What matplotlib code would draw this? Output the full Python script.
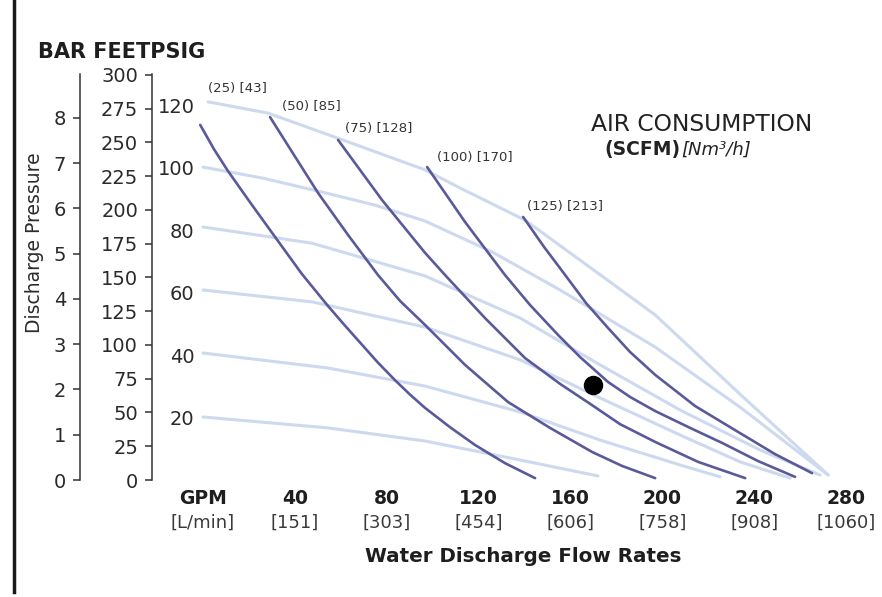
import matplotlib
matplotlib.use("Agg")
import matplotlib.pyplot as plt

plt.rcParams['font.family'] = ['DejaVu Sans']

# ---------------- data (GPM, PSIG) ----------------
gpm_ticks = [0, 40, 80, 120, 160, 200, 240, 280]
gpm_labels = ["GPM", "40", "80", "120", "160", "200", "240", "280"]
lpm_labels = ["[L/min]", "[151]", "[303]", "[454]", "[606]", "[758]", "[908]", "[1060]"]
psig_ticks = [20, 40, 60, 80, 100, 120]
feet_ticks = list(range(0, 301, 25))
bar_ticks = list(range(0, 9))

# dark curves: constant air consumption
scfm_labels = ["(25) [43]", "(50) [85]", "(75) [128]", "(100) [170]", "(125) [213]"]
c25_x = [-1.2, 4.8, 10.9, 20.5, 30.1, 36.6, 43.1, 54.4, 61.8, 69.3, 76.2, 83.6, 90.1, 96.7, 107.6, 118.5, 131.5, 144.6]
c25_y = [113.8, 106.0, 99.0, 89.0, 79.2, 72.6, 66.0, 55.8, 49.5, 43.3, 37.6, 32.0, 27.4, 23.1, 16.9, 11.2, 5.4, 0.6]
c50_x = [29.2, 39.6, 50.1, 63.2, 76.2, 85.8, 96.7, 114.1, 132.8, 151.1, 169.4, 182.5, 196.9]
c50_y = [116.3, 104.2, 92.0, 78.5, 65.7, 57.4, 49.7, 36.9, 25.0, 16.7, 9.0, 4.5, 0.6]
c75_x = [58.8, 78.0, 96.7, 105.4, 122.8, 140.2, 155.5, 169.4, 181.6, 196.9, 215.6, 236.1]
c75_y = [109.0, 89.7, 72.8, 65.7, 51.9, 39.1, 30.8, 24.0, 17.9, 12.2, 5.8, 0.6]
c100_x = [97.6, 114.1, 131.5, 142.4, 154.6, 164.2, 176.4, 186.0, 196.9, 212.1, 226.0, 241.6, 257.8]
c100_y = [100.3, 82.7, 65.7, 56.1, 46.5, 39.4, 31.4, 26.6, 22.1, 16.7, 11.9, 6.1, 1.0]
c125_x = [139.4, 148.5, 157.7, 166.8, 176.4, 186.0, 196.9, 214.3, 233.0, 249.1, 265.2]
c125_y = [84.3, 74.7, 65.7, 56.7, 48.7, 41.0, 33.7, 23.7, 15.4, 8.3, 2.2]
label_x = [2.2, 34.4, 61.8, 101.9, 141.1]
label_y = [125.6, 119.6, 112.8, 103.5, 87.5]

# light curves: constant air inlet pressure
a120_x = [2.2, 28.3, 59.7, 96.7, 111.1, 140.2, 172.0, 196.9, 234.3, 272.2]
a120_y = [121.2, 117.6, 109.3, 99.4, 93.9, 83.3, 66.3, 52.9, 27.2, 1.6]
a100_x = [0, 25.7, 51.8, 74.9, 96.7, 125.9, 155.5, 196.9, 234.3, 272.2]
a100_y = [100.3, 96.8, 92.3, 88.1, 83.0, 73.1, 60.9, 42.6, 23.1, 1.6]
a80_x = [0, 47.5, 96.7, 138.1, 172.9, 207.8, 242.6, 268.7]
a80_y = [81.1, 75.9, 65.4, 51.9, 36.9, 22.4, 9.6, 1.6]
a60_x = [0, 47.5, 96.7, 138.1, 172.9, 207.8, 233.9, 255.7]
a60_y = [60.9, 57.1, 49.0, 38.5, 26.3, 14.4, 5.8, 0.6]
a40_x = [0, 54.4, 96.7, 138.1, 172.9, 207.8, 225.2]
a40_y = [40.7, 35.9, 30.1, 21.8, 12.8, 4.8, 1.0]
a20_x = [0, 54.4, 96.7, 138.1, 172.0]
a20_y = [20.2, 16.7, 12.5, 6.4, 1.3]

point_x = [169.9]
point_y = [30.4]

# ---------------- figure ----------------
W, H = 882, 597
fig = plt.figure(figsize=(W / 100, H / 100), dpi=100)
fig.patch.set_facecolor("white")

x0, y0 = 203, 480          # pixel of (0 GPM, 0 psig)
x1, y1 = 869, 74.4         # pixel of (290 GPM, 130 psig)
ax = fig.add_axes([x0 / W, (H - y0) / H, (x1 - x0) / W, (y0 - y1) / H])
ax.set_xlim(0, 290)
ax.set_ylim(0, 130)
for s in ax.spines.values():
    s.set_visible(False)
ax.patch.set_alpha(0)

txt = "#2a2a2a"
light = "#cdd9ee"
dark = "#5a5a9a"

for xs, ys in [(a120_x, a120_y), (a100_x, a100_y), (a80_x, a80_y),
               (a60_x, a60_y), (a40_x, a40_y), (a20_x, a20_y)]:
    ax.plot(xs, ys, color=light, lw=2.2, solid_capstyle="round",
            solid_joinstyle="round", zorder=1, clip_on=False)

for xs, ys in [(c25_x, c25_y), (c50_x, c50_y), (c75_x, c75_y),
               (c100_x, c100_y), (c125_x, c125_y)]:
    ax.plot(xs, ys, color=dark, lw=1.9, solid_capstyle="round",
            solid_joinstyle="round", zorder=2, clip_on=False)

for lx, ly, lab in zip(label_x, label_y, scfm_labels):
    ax.text(lx, ly, lab, fontsize=9.5, color="#333333", ha="left", va="center")

ax.plot(point_x, point_y, "o", color="black", markersize=13, zorder=5)

# psig axis (labels only)
ax.set_yticks(psig_ticks)
ax.set_yticklabels([str(v) for v in psig_ticks])
ax.tick_params(axis="y", length=0, pad=6, labelsize=14, labelcolor=txt)

# x axis: GPM row (bold) and L/min row
ax.set_xticks(gpm_ticks)
ax.set_xticklabels(gpm_labels, fontweight="bold")
ax.tick_params(axis="x", length=0, pad=6.5, labelsize=13.5, labelcolor="#1e1e1e")
sx = ax.secondary_xaxis("bottom")
sx.set_xticks(gpm_ticks)
sx.set_xticklabels(lpm_labels)
sx.tick_params(axis="x", length=0, pad=24, labelsize=13, labelcolor="#3a3a3a")
sx.spines["bottom"].set_visible(False)

# feet axis
span = x1 - x0
feet = ax.secondary_yaxis((152 - x0) / span, functions=(lambda p: p * 2.31, lambda f: f / 2.31))
feet.set_yticks(feet_ticks)
feet.set_yticklabels([str(v) for v in feet_ticks])
feet.tick_params(axis="y", direction="out", length=5, width=1.1, pad=5, labelsize=14,
                 labelcolor=txt, color="#333333")
feet.spines["left"].set_linewidth(1.1)
feet.spines["left"].set_color("#333333")

# bar axis
bar = ax.secondary_yaxis((80 - x0) / span, functions=(lambda p: p / 14.5038, lambda b: b * 14.5038))
bar.set_yticks(bar_ticks)
bar.set_yticklabels([str(v) for v in bar_ticks])
bar.tick_params(axis="y", direction="out", length=5, width=1.1, pad=5, labelsize=14,
                labelcolor=txt, color="#333333")
bar.spines["left"].set_linewidth(1.1)
bar.spines["left"].set_color("#333333")


def fx(px):
    return px / W


def fy(py):
    return (H - py) / H


fig.text(fx(38), fy(52), "BAR FEETPSIG", fontsize=15, fontweight="bold",
         color="#1e1e1e", ha="left", va="center")
fig.text(fx(35), fy(243), "Discharge Pressure", fontsize=13.5, rotation=90,
         color=txt, ha="center", va="center")
fig.text(fx(523), fy(556), "Water Discharge Flow Rates", fontsize=14.3, fontweight="bold",
         color="#1e1e1e", ha="center", va="center")
fig.text(fx(702), fy(124), "AIR CONSUMPTION", fontsize=16.8, color="#222222",
         ha="center", va="center")
fig.text(fx(680), fy(150), "(SCFM)", fontsize=13.5, fontweight="bold", color="#222222",
         ha="right", va="center")
fig.text(fx(681), fy(150), "[Nm³/h]", fontsize=13, fontstyle="italic", color="#222222",
         ha="left", va="center")

# left border line
fig.add_artist(plt.Line2D([fx(14), fx(14)], [fy(0), fy(592)], color="#1a1a1a", lw=2.5))

fig.savefig("out.png", dpi=100)
